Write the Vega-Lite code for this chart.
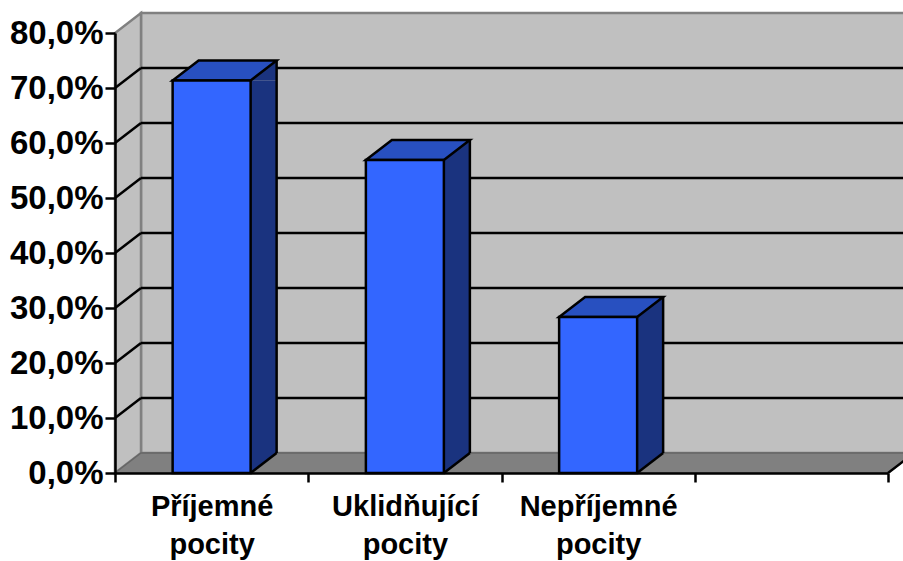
{
  "$schema": "https://vega.github.io/schema/vega-lite/v6.json",
  "width": 773,
  "height": 440,
  "autosize": {"type": "none"},
  "padding": {"left": 115, "top": 33, "right": 15, "bottom": 88},
  "background": "white",
  "config": {
    "view": {"stroke": null},
    "font": "Liberation Sans",
    "axis": {"labelFont": "Liberation Sans", "labelFontWeight": "bold", "labelColor": "#000000"},
    "point": {"opacity": 1, "size": 4}
  },
  "datasets": {
    "responses": [
      {"pocit": "Příjemné pocity", "podil": 0.7136},
      {"pocit": "Uklidňující pocity", "podil": 0.569},
      {"pocit": "Nepříjemné pocity", "podil": 0.2836}
    ],
    "levels": [
      {"uroven": 0.1}, {"uroven": 0.2}, {"uroven": 0.3}, {"uroven": 0.4},
      {"uroven": 0.5}, {"uroven": 0.6}, {"uroven": 0.7}
    ],
    "origin": [{"uroven": 0}]
  },
  "layer": [
    {
      "description": "back wall",
      "data": {"name": "origin"},
      "mark": {"type": "point", "filled": true, "fill": "#C0C0C0", "stroke": "#808080", "strokeWidth": 2.5, "shape": "M26 -20L800 -20L800 -460L26 -460Z"},
      "encoding": {
        "x": {"datum": "Příjemné pocity", "type": "nominal", "bandPosition": 0, "scale": {"type": "band", "paddingInner": 0, "paddingOuter": 0, "domain": ["Příjemné pocity", "Uklidňující pocity", "Nepříjemné pocity", " "]}},
        "y": {"field": "uroven", "type": "quantitative", "scale": {"domain": [0, 0.8]},
          "axis": {"values": [0, 0.1, 0.2, 0.3, 0.4, 0.5, 0.6, 0.7, 0.8], "title": null, "grid": false, "zindex": 1,
            "labelExpr": "replace(format(datum.value, '.1%'), '.', ',')",
            "labelFontSize": 33, "labelPadding": 2, "tickSize": 10, "tickWidth": 2.5, "tickColor": "#000000",
            "domainColor": "#000000", "domainWidth": 2.5, "labelFlush": false, "labelOverlap": false}}
      }
    },
    {
      "description": "side wall",
      "data": {"name": "origin"},
      "mark": {"type": "point", "filled": true, "fill": "#C0C0C0", "stroke": "#808080", "strokeWidth": 2.5, "shape": "M0 0L26 -20L26 -460L0 -440Z"},
      "encoding": {
        "x": {"datum": "Příjemné pocity", "type": "nominal", "bandPosition": 0},
        "y": {"field": "uroven", "type": "quantitative"}
      }
    },
    {
      "description": "floor",
      "data": {"name": "origin"},
      "mark": {"type": "point", "filled": true, "fill": "#808080", "stroke": "#666666", "strokeWidth": 1.5, "shape": "M0 0L773 0L799 -20L26 -20Z"},
      "encoding": {
        "x": {"datum": "Příjemné pocity", "type": "nominal", "bandPosition": 0},
        "y": {"field": "uroven", "type": "quantitative"}
      }
    },
    {
      "description": "black front edge of the floor on the right",
      "data": {"name": "origin"},
      "mark": {"type": "point", "filled": false, "stroke": "#000000", "strokeWidth": 2.5, "shape": "M773 0L799 -20"},
      "encoding": {
        "x": {"datum": "Příjemné pocity", "type": "nominal", "bandPosition": 0},
        "y": {"field": "uroven", "type": "quantitative"}
      }
    },
    {
      "description": "gridlines on the back wall",
      "data": {"name": "levels"},
      "mark": {"type": "point", "filled": false, "stroke": "#000000", "strokeWidth": 2.5, "shape": "M26 -20L800 -20"},
      "encoding": {
        "x": {"datum": "Příjemné pocity", "type": "nominal", "bandPosition": 0},
        "y": {"field": "uroven", "type": "quantitative"}
      }
    },
    {
      "description": "gridlines on the side wall",
      "data": {"name": "levels"},
      "mark": {"type": "point", "filled": false, "stroke": "#000000", "strokeWidth": 2.5, "shape": "M0 0L26 -20"},
      "encoding": {
        "x": {"datum": "Příjemné pocity", "type": "nominal", "bandPosition": 0},
        "y": {"field": "uroven", "type": "quantitative"}
      }
    },
    {
      "description": "right face of each bar: upper triangle",
      "data": {"name": "responses"},
      "mark": {"type": "point", "filled": true, "fill": "#1A337F", "strokeWidth": 0, "shape": "M39 0L65 -20L65 0Z"},
      "encoding": {
        "x": {"field": "pocit", "type": "nominal", "sort": null},
        "y": {"field": "podil", "type": "quantitative"}
      }
    },
    {
      "description": "right face of each bar: middle",
      "data": {"name": "responses"},
      "mark": {"type": "bar", "fill": "#1A337F", "width": 26, "xOffset": 52, "x2Offset": 52, "y2Offset": -20},
      "encoding": {
        "x": {"field": "pocit", "type": "nominal", "sort": null},
        "y": {"field": "podil", "type": "quantitative", "stack": null},
        "y2": {"datum": 0}
      }
    },
    {
      "description": "right face of each bar: lower triangle",
      "data": {"name": "responses"},
      "mark": {"type": "point", "filled": true, "fill": "#1A337F", "strokeWidth": 0, "shape": "M39 0L65 -20L39 -20Z"},
      "encoding": {
        "x": {"field": "pocit", "type": "nominal", "sort": null},
        "y": {"datum": 0, "type": "quantitative"}
      }
    },
    {
      "description": "lower edge of the right face",
      "data": {"name": "responses"},
      "mark": {"type": "point", "filled": false, "stroke": "#000000", "strokeWidth": 2.5, "shape": "M39 0L65 -20"},
      "encoding": {
        "x": {"field": "pocit", "type": "nominal", "sort": null},
        "y": {"datum": 0, "type": "quantitative"}
      }
    },
    {
      "description": "back vertical edge of the right face",
      "data": {"name": "responses"},
      "mark": {"type": "rule", "stroke": "#000000", "strokeWidth": 2.5, "xOffset": 65, "yOffset": -20, "y2Offset": -20},
      "encoding": {
        "x": {"field": "pocit", "type": "nominal", "sort": null},
        "y": {"field": "podil", "type": "quantitative"},
        "y2": {"datum": 0}
      }
    },
    {
      "description": "top face of each bar",
      "data": {"name": "responses"},
      "mark": {"type": "point", "filled": true, "fill": "#2850C0", "stroke": "#000000", "strokeWidth": 2.5, "shape": "M-39 0L39 0L65 -20L-13 -20Z"},
      "encoding": {
        "x": {"field": "pocit", "type": "nominal", "sort": null},
        "y": {"field": "podil", "type": "quantitative"}
      }
    },
    {
      "description": "front face of each bar",
      "data": {"name": "responses"},
      "mark": {"type": "bar", "fill": "#3366FF", "stroke": "#000000", "strokeWidth": 2.5, "width": 78},
      "encoding": {
        "x": {"field": "pocit", "type": "nominal", "sort": null,
          "axis": {"title": null, "zindex": 1, "labelAngle": 0, "tickBand": "extent", "labelAlign": "center",
            "labelExpr": "split(datum.label, ' ')", "labelFontSize": 29, "labelLineHeight": 38,
            "labelPadding": 24, "labelLimit": 0, "labelOverlap": false, "labelFlush": false,
            "tickSize": 9, "tickWidth": 2.5, "tickColor": "#000000", "domainColor": "#000000", "domainWidth": 2.5}},
        "y": {"field": "podil", "type": "quantitative", "stack": null},
        "y2": {"datum": 0}
      }
    }
  ]
}
